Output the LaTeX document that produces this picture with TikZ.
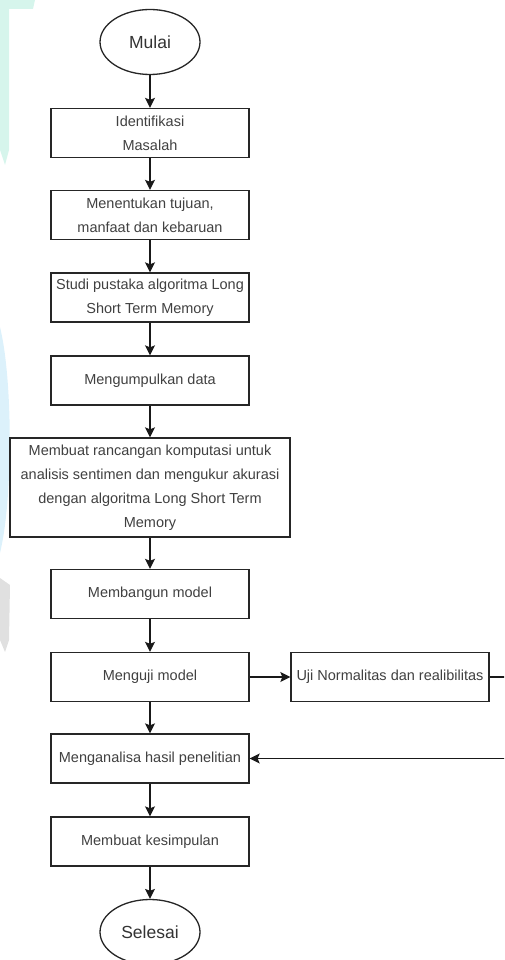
\documentclass[tikz,border=0pt]{standalone}
\usepackage{fontspec}
\setmainfont{Liberation Sans}
\usetikzlibrary{arrows.meta,shapes.geometric}
\definecolor{wmteal}{HTML}{D6F5EC}
\definecolor{wmblue}{HTML}{DCF1FB}
\definecolor{wmgray}{HTML}{E0E0E0}
\begin{document}
\begin{tikzpicture}[x=1pt,y=-1pt,
  box/.style={draw=black!85,line width=1.3pt,minimum width=198pt,minimum height=49pt,inner sep=0pt,align=center,text=black!75,font=\fontsize{14.5}{24}\selectfont},
  term/.style={ellipse,draw=black!85,line width=1.3pt,minimum width=100pt,minimum height=65pt,inner sep=0pt,text=black!80,font=\fontsize{17.5}{20}\selectfont},
  arr/.style={line width=1.3pt,draw=black!90,-{Stealth[length=10pt,width=10pt,inset=2pt]}}]
\useasboundingbox (0,0) rectangle (504,960);
\clip (0,0) rectangle (504,960);
% faint watermark shapes
\fill[wmteal] (0,0) -- (35,0) -- (33,9) -- (9,9) -- (9,150) -- (5,165) -- (0,150) -- cycle;
\fill[wmblue] (0,327) .. controls (13,380) and (13,500) .. (0,553) -- cycle;
\fill[wmgray] (0,578) -- (10,585) -- (9,640) -- (5,652) -- (0,640) -- cycle;
% nodes
\node[term] (mulai) at (150,42) {Mulai};
\node[box] (ident) at (150,133) {Identifikasi\\Masalah};
\node[box] (tujuan) at (150,215) {Menentukan tujuan,\\manfaat dan kebaruan};
\node[box] (studi) at (150,297.5) {Studi pustaka algoritma Long\\Short Term Memory};
\node[box] (kumpul) at (150,380.5) {Mengumpulkan data};
\node[box,minimum width=280pt,minimum height=99pt] (rancang) at (150,487.5) {Membuat rancangan komputasi untuk\\analisis sentimen dan mengukur akurasi\\dengan algoritma Long Short Term\\Memory};
\node[box] (bangun) at (150,594) {Membangun model};
\node[box] (uji) at (150,677) {Menguji model};
\node[box] (normal) at (390,677) {Uji Normalitas dan realibilitas};
\node[box] (anal) at (150,758.5) {Menganalisa hasil penelitian};
\node[box] (simpul) at (150,841.5) {Membuat kesimpulan};
\node[term] (selesai) at (150,932) {Selesai};
% connectors
\draw[arr] (mulai) -- (ident);
\draw[arr] (ident) -- (tujuan);
\draw[arr] (tujuan) -- (studi);
\draw[arr] (studi) -- (kumpul);
\draw[arr] (kumpul) -- (rancang);
\draw[arr] (rancang) -- (bangun);
\draw[arr] (bangun) -- (uji);
\draw[arr] (uji) -- (normal);
\draw[arr] (uji) -- (anal);
\draw[arr] (normal.east) -- ++(22,0) |- (anal.east);
\draw[arr] (anal) -- (simpul);
\draw[arr] (simpul) -- (selesai);
\end{tikzpicture}
\end{document}
